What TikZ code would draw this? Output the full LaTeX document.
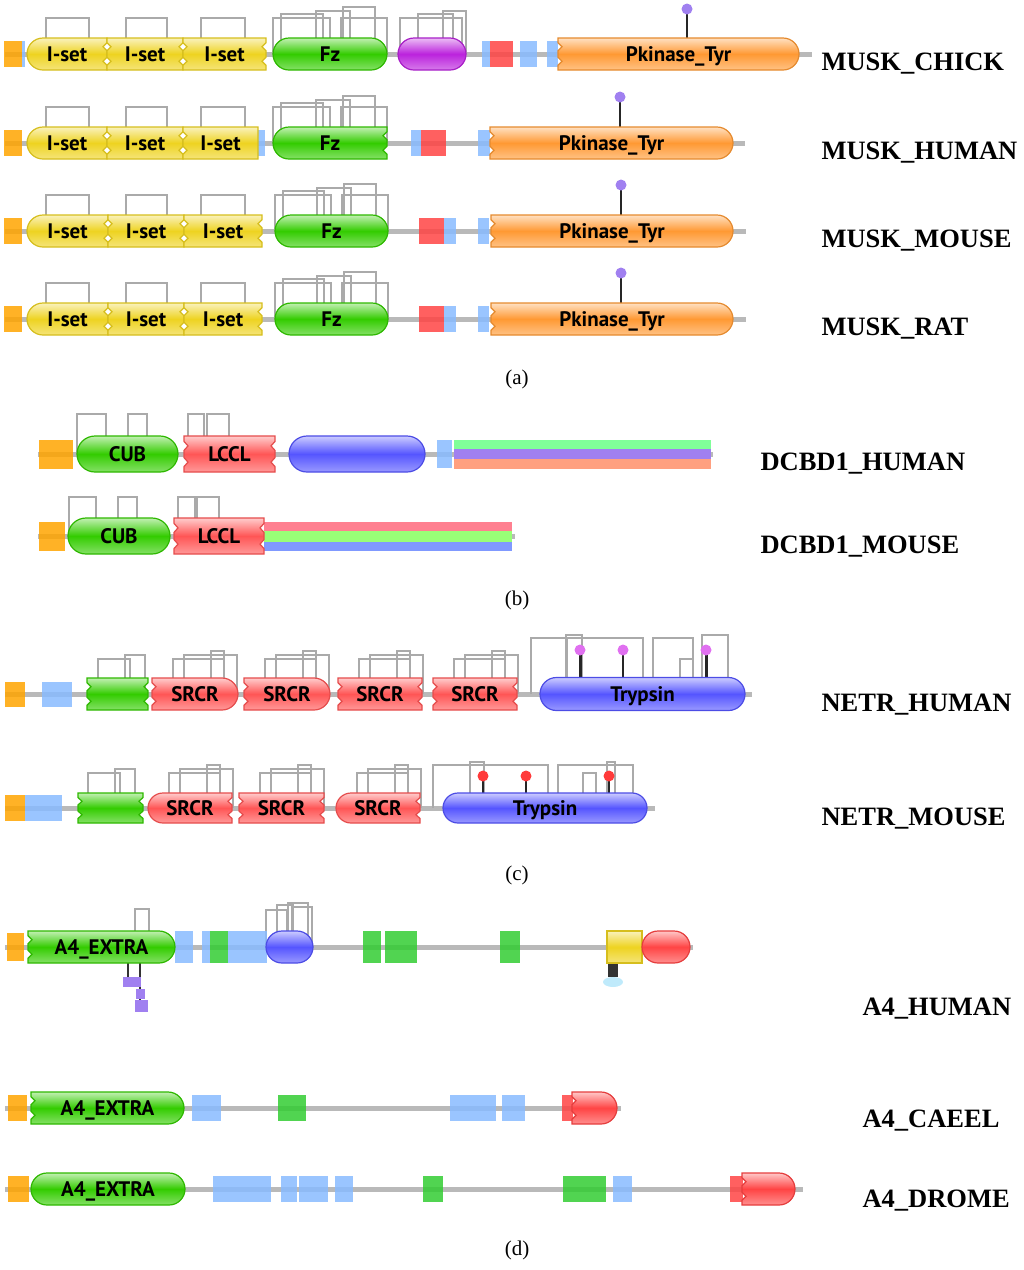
\documentclass[tikz,border=0pt]{standalone}
\usepackage{fontspec}
\setmainfont{Liberation Serif}
\newfontfamily\domfont{PT Sans}
\usetikzlibrary{calc}

\definecolor{sigorange}{HTML}{FFA500}
\definecolor{isetyel}{HTML}{EED320}
\definecolor{fzgreen}{HTML}{33CC00}
\definecolor{kringpurple}{HTML}{BB22DD}
\definecolor{kinorange}{HTML}{FF9933}
\definecolor{tmblue}{HTML}{88BBFF}
\definecolor{lowred}{HTML}{FF4444}
\definecolor{lcclred}{HTML}{FF5555}
\definecolor{trypblue}{HTML}{5555FF}
\definecolor{segreen}{HTML}{33CC33}
\definecolor{phospho}{HTML}{A080F0}
\definecolor{glycmag}{HTML}{E070F0}
\definecolor{glycred}{HTML}{FF3A3A}
\definecolor{bondgray}{HTML}{AAAAAA}
\definecolor{strgreen}{HTML}{80FF99}
\definecolor{strpurple}{HTML}{A080F0}
\definecolor{strsalmon}{HTML}{FFA080}
\definecolor{strpink}{HTML}{FF8090}
\definecolor{strlime}{HTML}{99FF77}
\definecolor{strblue}{HTML}{8099FF}

\tikzset{
  backbone/.style={line width=5pt, draw=gray!55},
  bond/.style={draw=bondgray, line width=2pt},
  dom/.style={draw=#1!90!black, line width=1.2pt, top color=#1!30!white,
    bottom color=#1!60!white, middle color=#1},
  seg/.style={fill=#1, fill opacity=.85},
  domlabel/.style={font=\domfont\bfseries\fontsize{21}{22}\selectfont,
    text height=14.7pt, text depth=0pt, inner sep=0pt},
  protname/.style={font=\bfseries\fontsize{26.5}{30}\selectfont, anchor=west},
  panel/.style={font=\fontsize{21}{24}\selectfont},
}

% domain ends: r = round, j = cut, f = flat
\def\domoffr{1}\def\domoffj{0}\def\domofff{0}
\def\domRr{arc[start angle=90,end angle=-90,radius=\dh]}
\def\domRj{-- (\dxb,\dyc+\dh) -- (\dxb,\dyc+0.7*\dh) -- (\dxb-4,\dyc+0.45*\dh) -- (\dxb,\dyc+0.2*\dh)
  -- (\dxb,\dyc-0.2*\dh) -- (\dxb-4,\dyc-0.45*\dh) -- (\dxb,\dyc-0.7*\dh) -- (\dxb,\dyc-\dh)}
\def\domRf{-- (\dxb,\dyc-\dh)}
\def\domLr{arc[start angle=270,end angle=90,radius=\dh]}
\def\domLj{-- (\dxa,\dyc-\dh) -- (\dxa,\dyc-0.7*\dh) -- (\dxa+4,\dyc-0.45*\dh) -- (\dxa,\dyc-0.2*\dh)
  -- (\dxa,\dyc+0.2*\dh) -- (\dxa+4,\dyc+0.45*\dh) -- (\dxa,\dyc+0.7*\dh) -- (\dxa,\dyc+\dh)}
\def\domLf{-- (\dxa,\dyc+\dh)}

\newcounter{domcnt}
% x1, x2, y centre, half height, colour, left end, right end, label
\newcommand\domain[8]{%
  \pgfmathsetmacro\dxa{#1}\pgfmathsetmacro\dxb{#2}%
  \pgfmathsetmacro\dyc{-#3}\pgfmathsetmacro\dh{#4}%
  \expandafter\let\expandafter\domoffL\csname domoff#6\endcsname
  \expandafter\let\expandafter\domoffR\csname domoff#7\endcsname
  \pgfmathsetmacro\dla{#1+\domoffL*#4}\pgfmathsetmacro\dlb{#2-\domoffR*#4}%
  \expandafter\let\expandafter\domRcap\csname domR#7\endcsname
  \expandafter\let\expandafter\domLcap\csname domL#6\endcsname
  \draw[dom=#5] (\dla,\dyc+\dh) -- (\dlb,\dyc+\dh) \domRcap -- (\dla,\dyc-\dh) \domLcap -- cycle;
  \stepcounter{domcnt}%
  \node[domlabel] (dom\thedomcnt) at ({(#1+#2)/2},-#3) {#8};}
% x1, x2, height, base
\newcommand\ssbond[4]{\draw[bond] (#1,-#4) |- (#2,-#4+#3) -- (#2,-#4);}
% x1, x2, y centre, half height, colour
\newcommand\seg[5]{\fill[seg=#5] (#1,-#3-#4) rectangle (#2,-#3+#4);}
% x, base, height, colour, stem width
\newcommand\lolli[5]{\draw[line width=#5,black!85] (#1,-#2) -- (#1,-#2+#3);
  \fill[#4] (#1,-#2+#3) circle[radius=5.5];}

\begin{document}
\begin{tikzpicture}[x=1pt,y=1pt]
\useasboundingbox (0,0) rectangle (1024,-1270);

% ---- (a) MUSK
% MUSK_CHICK
\draw[backbone] (5,-54) -- (812,-54);
\foreach \a/\b in {46/89,126/167,201/245} {\ssbond{\a}{\b}{36}{54}}
\foreach \a/\b/\t in {273/330/36,281/323/40,316/350/43,343/375/47,341/387/36,400/462/36,418/453/40,443/466/43}
  {\ssbond{\a}{\b}{\t}{54}}
\lolli{687}{54}{45}{phospho}{2pt}
\seg{4}{22}{54}{13}{sigorange}
\seg{22}{25}{54}{13}{tmblue}
\seg{482}{490}{54}{13}{tmblue}
\seg{490}{513}{54}{13}{lowred}
\seg{520}{537}{54}{13}{tmblue}
\seg{547}{558}{54}{13}{tmblue}
\domain{27}{107}{54}{16}{isetyel}{r}{j}{I-set}
\domain{107}{183}{54}{16}{isetyel}{j}{j}{I-set}
\domain{183}{266}{54}{16}{isetyel}{j}{j}{I-set}
\domain{273}{387}{54}{16}{fzgreen}{r}{r}{Fz}
\domain{398}{466}{54}{16}{kringpurple}{r}{r}{}
\domain{558}{799}{54}{16}{kinorange}{j}{r}{Pkinase\_Tyr}
\node[protname] (chick) at (818,-64) {MUSK\_CHICK};

% MUSK_HUMAN
\draw[backbone] (5,-143) -- (745,-143);
\foreach \a/\b in {46/89,126/167,201/245} {\ssbond{\a}{\b}{36}{143}}
\foreach \a/\b/\t in {273/330/36,281/323/40,316/350/43,343/375/47,341/387/36}
  {\ssbond{\a}{\b}{\t}{143}}
\lolli{620}{143}{46}{phospho}{2pt}
\seg{4}{22}{143}{13}{sigorange}
\seg{258}{265}{143}{13}{tmblue}
\seg{411}{421}{143}{13}{tmblue}
\seg{421}{446}{143}{13}{lowred}
\seg{478}{490}{143}{13}{tmblue}
\domain{27}{107}{143}{16}{isetyel}{r}{j}{I-set}
\domain{107}{183}{143}{16}{isetyel}{j}{j}{I-set}
\domain{183}{258}{143}{16}{isetyel}{j}{f}{I-set}
\domain{273}{387}{143}{16}{fzgreen}{r}{j}{Fz}
\domain{490}{733}{143}{16}{kinorange}{j}{r}{Pkinase\_Tyr}
\node[protname] (human) at (818,-153) {MUSK\_HUMAN};

% MUSK_MOUSE, MUSK_RAT
\foreach \y/\nm in {231/MOUSE,319/RAT} {
  \draw[backbone] (5,-\y) -- (746,-\y);
  \foreach \a/\b in {46/89,126/167,201/245} {\ssbond{\a}{\b}{36}{\y}}
  \foreach \a/\b/\t in {275/331/36,283/324/40,317/351/43,344/376/47,342/388/36}
    {\ssbond{\a}{\b}{\t}{\y}}
  \lolli{621}{\y}{46}{phospho}{2pt}
  \seg{4}{22}{\y}{13}{sigorange}
  \seg{419}{444}{\y}{13}{lowred}
  \seg{444}{456}{\y}{13}{tmblue}
  \seg{478}{489}{\y}{13}{tmblue}
  \domain{27}{108}{\y}{16}{isetyel}{r}{j}{I-set}
  \domain{108}{184}{\y}{16}{isetyel}{j}{j}{I-set}
  \domain{184}{262}{\y}{16}{isetyel}{j}{j}{I-set}
  \domain{275}{388}{\y}{16}{fzgreen}{r}{r}{Fz}
  \domain{491}{733}{\y}{16}{kinorange}{j}{r}{Pkinase\_Tyr}
  \node[protname] (musk\nm) at (818,-\y-10) {MUSK\_\nm};
}
\node[panel] (capa) at (517,-379) {(a)};

% ---- (b) DCBD1
% DCBD1_HUMAN
\draw[backbone] (38,-454) -- (713,-454);
\foreach \a/\b in {77/106,128/147,188/204,207/229} {\ssbond{\a}{\b}{40}{454}}
\seg{39}{73}{454}{14.5}{sigorange}
\seg{437}{452}{454}{14}{tmblue}
\fill[strgreen] (454,-440) rectangle (711,-449);
\fill[strpurple] (454,-449) rectangle (711,-459);
\fill[strsalmon] (454,-459) rectangle (711,-469);
\domain{77}{178}{454}{18}{fzgreen}{r}{r}{CUB}
\domain{184}{275}{454}{18}{lcclred}{j}{j}{LCCL}
\domain{289}{425}{454}{18}{trypblue}{r}{r}{}
\node[protname] (dcbdh) at (757,-464) {DCBD1\_HUMAN};

% DCBD1_MOUSE
\draw[backbone] (38,-536) -- (515,-536);
\foreach \a/\b in {69/96,118/137,178/195,197/219} {\ssbond{\a}{\b}{39}{536}}
\seg{39}{65}{536}{14.5}{sigorange}
\fill[strpink] (264,-522) rectangle (512,-531);
\fill[strlime] (264,-531) rectangle (512,-542);
\fill[strblue] (264,-542) rectangle (512,-551);
\domain{68}{170}{536}{18}{fzgreen}{r}{r}{CUB}
\domain{174}{264}{536}{18}{lcclred}{j}{j}{LCCL}
\node[protname] (dcbdm) at (757,-547) {DCBD1\_MOUSE};
\node[panel] (capb) at (517,-600) {(b)};

% ---- (c) NETR
% NETR_HUMAN
\draw[backbone] (5,-694) -- (752,-694);
\foreach \a/\b/\t in {98/130/35,125/145/39} {\ssbond{\a}{\b}{\t}{694}}
\foreach \s in {152,244,338,433} {
  \ssbond{\s+21}{\s+72}{35}{694}
  \ssbond{\s+32}{\s+85}{39}{694}
  \ssbond{\s+59}{\s+72}{43}{694}
}
\foreach \a/\b/\t in {531/567/56,566/582/59,567/643/56,653/693/56,702/728/59,680/693/35}
  {\ssbond{\a}{\b}{\t}{694}}
\lolli{580}{694}{44}{glycmag}{3pt}
\lolli{623}{694}{44}{glycmag}{1.5pt}
\lolli{706}{694}{44}{glycmag}{3pt}
\seg{5}{25}{694}{12.5}{sigorange}
\seg{42}{72}{694}{12.5}{tmblue}
\domain{87}{148}{694}{16}{fzgreen}{j}{j}{}
\domain{152}{238}{694}{16}{lcclred}{j}{r}{SRCR}
\domain{244}{330}{694}{16}{lcclred}{j}{r}{SRCR}
\domain{338}{422}{694}{16}{lcclred}{j}{j}{SRCR}
\domain{433}{517}{694}{16}{lcclred}{j}{j}{SRCR}
\domain{540}{745}{694}{16.5}{trypblue}{r}{r}{Trypsin}
\node[protname] (netrh) at (818,-705) {NETR\_HUMAN};

% NETR_MOUSE
\draw[backbone] (5,-808) -- (655,-808);
\foreach \a/\b/\t in {88/120/35,115/135/39} {\ssbond{\a}{\b}{\t}{808}}
\foreach \s in {148,239,336} {
  \ssbond{\s+21}{\s+72}{35}{808}
  \ssbond{\s+32}{\s+85}{39}{808}
  \ssbond{\s+59}{\s+72}{43}{808}
}
\foreach \a/\b/\t in {433/548/43,470/484/46,558/633/43,607/615/46,583/596/35}
  {\ssbond{\a}{\b}{\t}{808}}
\lolli{483}{808}{32}{glycred}{2pt}
\lolli{526}{808}{32}{glycred}{2.5pt}
\lolli{609}{808}{32}{glycred}{2pt}
\seg{5}{25}{808}{13}{sigorange}
\seg{25}{62}{808}{13}{tmblue}
\domain{78}{143}{808}{15}{fzgreen}{j}{j}{}
\domain{148}{232}{808}{15}{lcclred}{r}{j}{SRCR}
\domain{239}{324}{808}{15}{lcclred}{j}{j}{SRCR}
\domain{336}{420}{808}{15}{lcclred}{r}{j}{SRCR}
\domain{443}{647}{808}{15}{trypblue}{r}{r}{Trypsin}
\node[protname] (netrm) at (818,-819) {NETR\_MOUSE};
\node[panel] (capc) at (517,-875) {(c)};

% ---- (d) A4
% A4_HUMAN
\draw[backbone] (5,-947) -- (693,-947);
\foreach \a/\b/\t in {135/149/38,266/287/37,277/293/42,288/308/44,292/312/40} {\ssbond{\a}{\b}{\t}{947}}
\draw[line width=2.5pt, black!80] (128,-963) -- (128,-982);
\draw[line width=2.5pt, black!80] (140,-963) -- (140,-1004);
\fill[phospho] (123,-977) rectangle (132,-987);
\fill[phospho] (132,-977) rectangle (141,-987);
\fill[phospho] (136,-989) rectangle (145,-999);
\fill[phospho] (135,-1000) rectangle (148,-1012);
\seg{7}{24}{947}{14}{sigorange}
\seg{175}{193}{947}{16}{tmblue}
\seg{202}{210}{947}{16}{tmblue}
\seg{210}{228}{947}{16}{segreen}
\seg{228}{267}{947}{16}{tmblue}
\seg{363}{381}{947}{16}{segreen}
\seg{385}{417}{947}{16}{segreen}
\seg{500}{520}{947}{16}{segreen}
\domain{28}{175}{947}{16}{fzgreen}{j}{r}{A4\_EXTRA}
\domain{266}{313}{947}{16}{trypblue}{r}{r}{}
\fill[black!80] (608,-963) rectangle (618,-977);
\fill[cyan!25] (613,-982) ellipse[x radius=10, y radius=5];
\domain{607}{642}{947}{16}{isetyel}{f}{f}{}
\domain{642}{690}{947}{16}{lowred}{r}{r}{}
\node[protname] (a4h) at (859,-1009) {A4\_HUMAN};

% A4_CAEEL
\draw[backbone] (5,-1108) -- (621,-1108);
\seg{8}{27}{1108}{13}{sigorange}
\seg{192}{221}{1108}{13}{tmblue}
\seg{278}{306}{1108}{13}{segreen}
\seg{450}{496}{1108}{13}{tmblue}
\seg{502}{525}{1108}{13}{tmblue}
\seg{562}{573}{1108}{13}{lowred}
\domain{31}{184}{1108}{16}{fzgreen}{j}{r}{A4\_EXTRA}
\domain{572}{617}{1108}{16}{lowred}{j}{r}{}
\node[protname] (a4c) at (859,-1121) {A4\_CAEEL};

% A4_DROME
\draw[backbone] (5,-1189) -- (803,-1189);
\seg{8}{29}{1189}{13}{sigorange}
\seg{213}{271}{1189}{13}{tmblue}
\seg{281}{297}{1189}{13}{tmblue}
\seg{299}{328}{1189}{13}{tmblue}
\seg{335}{353}{1189}{13}{tmblue}
\seg{423}{443}{1189}{13}{segreen}
\seg{563}{606}{1189}{13}{segreen}
\seg{613}{632}{1189}{13}{tmblue}
\seg{730}{743}{1189}{13}{lowred}
\domain{31}{185}{1189}{16}{fzgreen}{r}{r}{A4\_EXTRA}
\domain{742}{795}{1189}{16}{lowred}{j}{r}{}
\node[protname] (a4d) at (859,-1201) {A4\_DROME};
\node[panel] (capd) at (517,-1250) {(d)};
\end{tikzpicture}
\end{document}
